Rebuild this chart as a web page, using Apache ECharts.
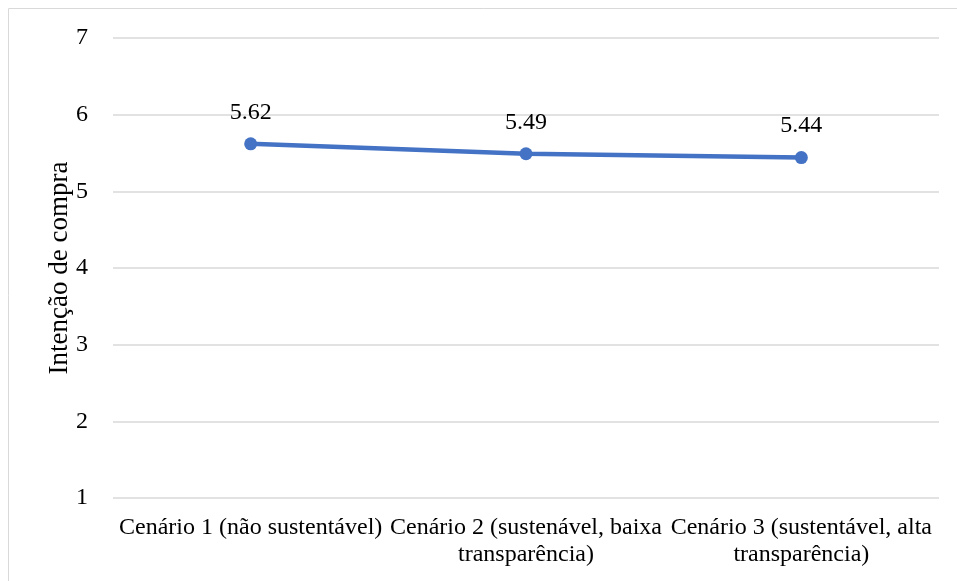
<!DOCTYPE html>
<html><head><meta charset="utf-8">
<script src="https://cdn.jsdelivr.net/npm/echarts@6/dist/echarts.min.js"></script>
<style>html,body{margin:0;padding:0;background:#fff}#c{width:957px;height:581px}</style>
</head><body><div id="c"></div>
<script>
const categories = ['Cenário 1 (não sustentável)', 'Cenário 2 (sustenável, baixa\ntransparência)', 'Cenário 3 (sustentável, alta\ntransparência)'];
const values = [5.62, 5.49, 5.44];
const yTicks = [1, 2, 3, 4, 5, 6, 7];
const yAxisName = 'Intenção de compra';

const font = 'Liberation Serif, Times New Roman, serif';
const chart = echarts.init(document.getElementById('c'));
chart.setOption({
  animation: false,
  graphic: [{type: 'rect', shape: {x: 8.5, y: 8.5, width: 1000, height: 1000}, style: {fill: 'none', stroke: '#d9d9d9', lineWidth: 1}}],
  grid: {left: 113, right: 18, top: 38, bottom: 83},
  xAxis: {
    type: 'category', data: categories, boundaryGap: true,
    axisLine: {show: false}, axisTick: {show: false},
    axisLabel: {color: '#000', fontFamily: font, fontSize: 24, margin: 16, lineHeight: 27, interval: 0}
  },
  yAxis: {
    type: 'value', min: yTicks[0], max: yTicks[yTicks.length - 1], interval: 1,
    name: yAxisName, nameLocation: 'middle', nameGap: 40, nameRotate: 90, nameMoveOverlap: false,
    nameTextStyle: {color: '#000', fontFamily: font, fontSize: 27},
    axisLine: {show: false}, axisTick: {show: false},
    axisLabel: {color: '#000', fontFamily: font, fontSize: 24, margin: 25},
    splitLine: {lineStyle: {color: '#d9d9d9', width: 1.5}}
  },
  series: [{
    type: 'line', data: values, symbol: 'circle', symbolSize: 13,
    lineStyle: {color: '#4472C4', width: 4.5}, itemStyle: {color: '#4472C4'},
    label: {show: true, position: 'top', distance: 13, color: '#000', fontFamily: font, fontSize: 24,
      formatter: p => p.value.toFixed(2)}
  }]
});
</script></body></html>
